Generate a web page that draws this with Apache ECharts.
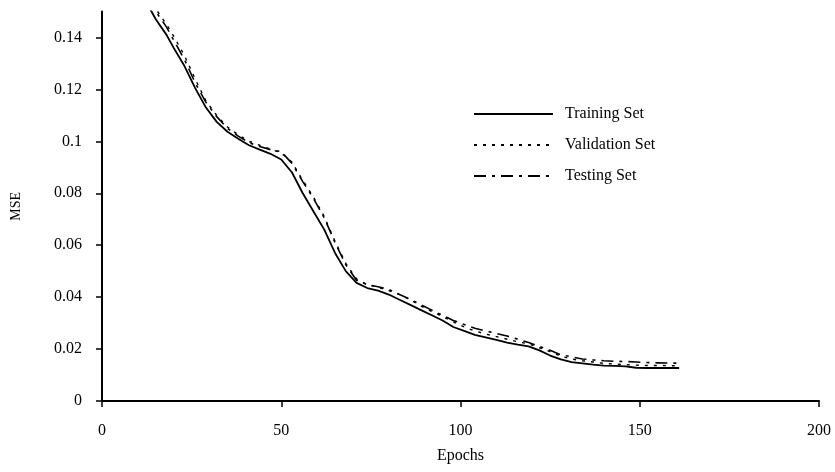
<!DOCTYPE html>
<html>
<head>
<meta charset="utf-8">
<script src="https://cdn.jsdelivr.net/npm/echarts@6/dist/echarts.min.js"></script>
<style>html,body{margin:0;padding:0;background:#fff;}#c{width:835px;height:472px;}</style>
</head>
<body>
<div id="c"></div>
<script>
const epochs = [13,15,18,20,23,26,29,32,35,38,41,44,47,50,53,56,59,62,65,68,71,74,77,80,83,86,89,92,95,98,101,104,107,110,113,116,119,122,125,128,131,134,137,140,143,146,149,152,155,158,161];
const training = [0.152,0.147,0.141,0.136,0.129,0.1205,0.113,0.1075,0.1037,0.101,0.0985,0.0968,0.0952,0.093,0.088,0.080,0.073,0.066,0.057,0.050,0.0455,0.0435,0.0425,0.041,0.039,0.037,0.035,0.033,0.031,0.0285,0.027,0.0255,0.0245,0.0235,0.0225,0.0217,0.021,0.0195,0.0175,0.016,0.015,0.0145,0.014,0.0136,0.0135,0.0133,0.0128,0.0127,0.0127,0.0127,0.0127];
const validation = [0.156,0.151,0.145,0.1405,0.133,0.124,0.1155,0.110,0.1055,0.1025,0.100,0.0985,0.097,0.0955,0.092,0.085,0.0785,0.071,0.0615,0.053,0.047,0.0448,0.0438,0.0425,0.041,0.039,0.0365,0.0345,0.0325,0.0305,0.0285,0.027,0.0258,0.0248,0.0238,0.0228,0.022,0.0205,0.019,0.0172,0.0162,0.0155,0.015,0.0145,0.0142,0.014,0.0138,0.0137,0.0137,0.0136,0.0136];
const testing = [0.155,0.150,0.144,0.139,0.1315,0.1225,0.115,0.1095,0.105,0.102,0.0995,0.098,0.0968,0.096,0.0915,0.0845,0.078,0.0705,0.061,0.0525,0.0465,0.0448,0.044,0.043,0.041,0.0392,0.037,0.035,0.033,0.031,0.0295,0.028,0.027,0.026,0.025,0.0238,0.0225,0.021,0.0195,0.0178,0.017,0.0162,0.0158,0.0155,0.0153,0.0152,0.015,0.0148,0.0147,0.0146,0.0146];
const yTicks = [0,0.02,0.04,0.06,0.08,0.1,0.12,0.14];
const seriesNames = ['Training Set','Validation Set','Testing Set'];

const pair = arr => epochs.map((e,i)=>[e,arr[i]]);
const font = 'Liberation Serif';
const chart = echarts.init(document.getElementById('c'), null, {renderer:'canvas'});
chart.setOption({
  animation:false,
  backgroundColor:'#fff',
  grid:{left:102,right:16,top:11.5,bottom:71,containLabel:false},
  legend:{
    orient:'vertical', left:473, top:106, padding:0, itemWidth:79, itemHeight:14, itemGap:15,
    itemStyle:{opacity:0},
    textStyle:{fontFamily:font,fontSize:16,color:'#000',padding:[0,0,0,7]},
    data:seriesNames
  },
  xAxis:{
    type:'value', min:0, max:200, interval:50,
    name:'Epochs', nameLocation:'middle', nameGap:47,
    nameTextStyle:{fontFamily:font,fontSize:16,color:'#000'},
    axisLine:{lineStyle:{color:'#000',width:2}},
    axisTick:{length:6,lineStyle:{color:'#000',width:1.5}},
    axisLabel:{fontFamily:font,fontSize:16,color:'#000',margin:22},
    splitLine:{show:false}
  },
  yAxis:{
    type:'value', min:0, max:0.15,
    name:'MSE', nameLocation:'middle', nameGap:79,
    nameTextStyle:{fontFamily:font,fontSize:14,color:'#000'},
    axisLine:{show:true,lineStyle:{color:'#000',width:2}},
    axisTick:{show:true,length:6,customValues:yTicks,lineStyle:{color:'#000',width:1.5}},
    axisLabel:{fontFamily:font,fontSize:16,color:'#000',margin:20,customValues:yTicks},
    splitLine:{show:false}
  },
  series:[
    {name:seriesNames[0],type:'line',data:pair(training),symbol:'none',clip:true,
     lineStyle:{color:'#000',width:1.8,type:'solid'},itemStyle:{color:'#000'},z:3},
    {name:seriesNames[1],type:'line',data:pair(validation),symbol:'none',clip:true,
     lineStyle:{color:'#000',width:1.4,type:[3,6]},itemStyle:{color:'#000'},z:2},
    {name:seriesNames[2],type:'line',data:pair(testing),symbol:'none',clip:true,
     lineStyle:{color:'#000',width:1.6,type:[12,6,3,6]},itemStyle:{color:'#000'},z:2}
  ]
});
</script>
</body>
</html>
